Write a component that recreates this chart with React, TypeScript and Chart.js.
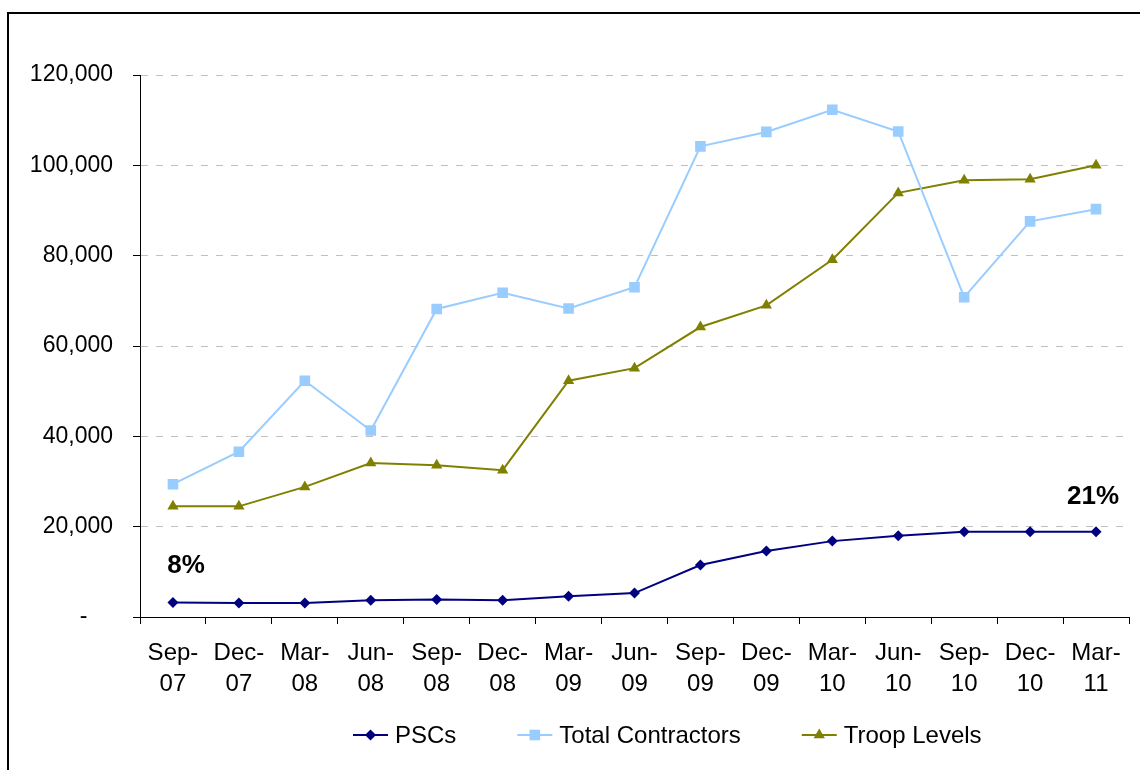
import React, { useEffect, useRef } from 'react';
import { Chart, registerables } from 'chart.js';

Chart.register(...registerables);

const categories: string[][] = [
  ['Sep-', '07'], ['Dec-', '07'], ['Mar-', '08'], ['Jun-', '08'], ['Sep-', '08'],
  ['Dec-', '08'], ['Mar-', '09'], ['Jun-', '09'], ['Sep-', '09'], ['Dec-', '09'],
  ['Mar-', '10'], ['Jun-', '10'], ['Sep-', '10'], ['Dec-', '10'], ['Mar-', '11'],
];
const pscs = [3200, 3100, 3100, 3700, 3900, 3700, 4600, 5300, 11500, 14600, 16800, 18000, 18900, 18900, 18900];
const totalContractors = [29400, 36600, 52300, 41300, 68200, 71800, 68300, 73000, 104200, 107400, 112300, 107500, 70800, 87600, 90300];
const troopLevels = [24500, 24500, 28800, 34100, 33600, 32500, 52300, 55100, 64200, 69000, 79100, 93900, 96700, 96900, 100000];
const yTicks = [0, 20000, 40000, 60000, 80000, 100000, 120000];
const yTickLabels = ['-    ', '20,000', '40,000', '60,000', '80,000', '100,000', '120,000'];
const annotations = [
  { text: '8%', index: 0, value: 11300, dx: 13 },
  { text: '21%', index: 14, value: 26600, dx: -3 },
];

const FONT = '"Liberation Sans", Arial, sans-serif';
const FS = 23;
const LEGEND_FS = 24;

function drawMarker(ctx: CanvasRenderingContext2D, style: string, x: number, y: number, r: number, color: string) {
  ctx.save();
  ctx.fillStyle = color;
  ctx.beginPath();
  if (style === 'rectRot') {
    ctx.moveTo(x, y - r); ctx.lineTo(x + r, y); ctx.lineTo(x, y + r); ctx.lineTo(x - r, y);
  } else if (style === 'rect') {
    const s = r * Math.SQRT1_2;
    ctx.rect(x - s, y - s, 2 * s, 2 * s);
  } else {
    ctx.moveTo(x, y - r);
    ctx.lineTo(x + r * Math.sin(Math.PI / 3), y + r / 2);
    ctx.lineTo(x - r * Math.sin(Math.PI / 3), y + r / 2);
  }
  ctx.closePath();
  ctx.fill();
  ctx.restore();
}

const framePlugin = {
  id: 'frame',
  beforeDraw(chart: any) {
    const ctx = chart.ctx;
    ctx.save();
    ctx.strokeStyle = '#000';
    ctx.lineWidth = 2;
    ctx.beginPath();
    ctx.moveTo(8, chart.height);
    ctx.lineTo(8, 13);
    ctx.lineTo(chart.width, 13);
    ctx.stroke();
    ctx.restore();
  },
};

const extrasPlugin = {
  id: 'extras',
  afterDraw(chart: any) {
    const ctx = chart.ctx;
    const xs = chart.scales.x;
    const ys = chart.scales.y;
    ctx.save();
    // annotations
    ctx.font = `bold 26px ${FONT}`;
    ctx.fillStyle = '#000';
    ctx.textAlign = 'center';
    ctx.textBaseline = 'middle';
    annotations.forEach((a) => {
      ctx.fillText(a.text, xs.getPixelForValue(a.index) + a.dx, ys.getPixelForValue(a.value));
    });
    // legend
    ctx.font = `${LEGEND_FS}px ${FONT}`;
    ctx.textAlign = 'left';
    let x = 353;
    const y = 735;
    chart.data.datasets.forEach((ds: any) => {
      ctx.strokeStyle = ds.borderColor;
      ctx.lineWidth = 2;
      ctx.beginPath();
      ctx.moveTo(x, y);
      ctx.lineTo(x + 35, y);
      ctx.stroke();
      drawMarker(ctx, ds.pointStyle, x + 17.5, y, ds.pointRadius, ds.pointBackgroundColor);
      ctx.fillStyle = '#000';
      ctx.fillText(ds.label, x + 42, y + 1);
      x += 42 + ctx.measureText(ds.label).width + 61;
    });
    ctx.restore();
  },
};

export default function App() {
  const ref = useRef<HTMLCanvasElement>(null);
  useEffect(() => {
    if (!ref.current) return;
    const chart = new Chart(ref.current, {
      type: 'line',
      data: {
        labels: categories,
        datasets: [
          {
            label: 'PSCs', data: pscs, borderColor: '#000080', backgroundColor: '#000080',
            pointBackgroundColor: '#000080', pointBorderColor: '#000080', pointStyle: 'rectRot',
            pointRadius: 5.5, pointBorderWidth: 0, borderWidth: 2, tension: 0,
          },
          {
            label: 'Total Contractors', data: totalContractors, borderColor: '#99CCFF', backgroundColor: '#99CCFF',
            pointBackgroundColor: '#99CCFF', pointBorderColor: '#99CCFF', pointStyle: 'rect',
            pointRadius: 7.5, pointBorderWidth: 0, borderWidth: 2, tension: 0,
          },
          {
            label: 'Troop Levels', data: troopLevels, borderColor: '#808000', backgroundColor: '#808000',
            pointBackgroundColor: '#808000', pointBorderColor: '#808000', pointStyle: 'triangle',
            pointRadius: 6.5, pointBorderWidth: 0, borderWidth: 2, tension: 0,
          },
        ],
      },
      options: {
        responsive: false,
        animation: false,
        layout: { padding: { left: 0, right: 11, top: 75, bottom: 0 } },
        plugins: { legend: { display: false }, tooltip: { enabled: false } },
        scales: {
          x: {
            offset: true,
            grid: {
              offset: true, drawOnChartArea: false, drawTicks: true, tickLength: 7,
              tickColor: '#000', tickWidth: 1,
            },
            border: { color: '#000', width: 1 },
            ticks: {
              color: '#000', font: { family: FONT, size: 24, lineHeight: 1.3 }, padding: 14,
              maxRotation: 0, autoSkip: false,
            },
            afterFit: (s: any) => { s.height = 153; },
          },
          y: {
            min: 0, max: 120000,
            afterBuildTicks: (s: any) => { s.ticks = yTicks.map((v) => ({ value: v })); },
            grid: {
              color: (c: any) => (c.tick && c.tick.value === 0 ? 'rgba(0,0,0,0)' : '#c0c0c0'),
              lineWidth: 1, tickLength: 7, tickColor: '#000', tickWidth: 1, tickBorderDash: [],
            },
            border: { color: '#000', width: 1, dash: [7, 8] },
            ticks: {
              color: '#000', font: { family: FONT, size: FS }, padding: 20,
              callback: (v: any) => yTickLabels[yTicks.indexOf(Number(v))],
            },
            afterFit: (s: any) => { s.width = 140; },
          },
        },
      },
      plugins: [framePlugin, extrasPlugin],
    });
    return () => chart.destroy();
  }, []);
  return (
    <div style={{ position: 'fixed', left: 0, top: 0, width: 1140, height: 770, background: '#fff' }}>
      <canvas ref={ref} width={1140} height={770} style={{ display: 'block' }} />
    </div>
  );
}
